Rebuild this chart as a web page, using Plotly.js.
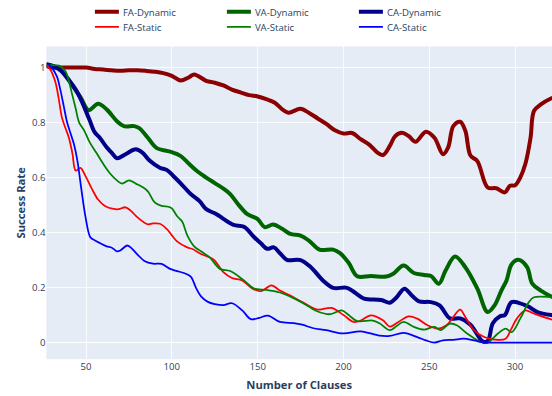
<!DOCTYPE html>
<html>
<head>
<meta charset="utf-8">
<script src="https://cdn.plot.ly/plotly-3.0.1.min.js"></script>
<style>
  html, body { margin: 0; padding: 0; background: #fff; overflow: hidden; }
  #frame { width: 552px; height: 396px; overflow: hidden; }
  #chart { width: 690px; height: 495px; transform: scale(0.8); transform-origin: 0 0; }
</style>
</head>
<body>
<div id="frame"><div id="chart"></div></div>
<script>
// Success rate versus number of clauses, dynamic vs static strategies.
const faDynX = [27,30,35,40,45,50,55,60,65,70,75,80,85,90,95,100,105,110,113,120,125,130,135,140,145,150,155,160,165,168,175,180,185,190,195,200,205,210,215,220,223,227,230,234,238,242,248,253,258,261,264,268,271,274,278,284,289,294,297,300,303,306,309,311,315,320,325];
const faDynY = [1.005,1.0,1.0,1.0,1.0,1.0,0.995,0.993,0.99,0.988,0.99,0.99,0.988,0.985,0.98,0.97,0.953,0.965,0.975,0.952,0.945,0.935,0.92,0.91,0.90,0.895,0.885,0.872,0.845,0.836,0.85,0.835,0.815,0.795,0.772,0.76,0.762,0.74,0.72,0.69,0.682,0.715,0.75,0.763,0.751,0.73,0.767,0.745,0.685,0.71,0.787,0.803,0.77,0.68,0.66,0.564,0.561,0.546,0.57,0.572,0.60,0.65,0.745,0.842,0.866,0.885,0.895];

const vaDynX = [27,31,35,39,43,47,51.5,57,62,68,72,78,81,86,91,99,105,110,115,120,125,130,134,139,144,150,154,159,164,169,175,180,186,194,198,203,208,216,225,229,235,241,247,251,255.6,259.5,265,271,278,284,288,292,295,298,302,307,310,315,322,325];
const vaDynY = [1.008,1.005,0.993,0.962,0.926,0.89,0.845,0.868,0.848,0.805,0.787,0.787,0.78,0.745,0.708,0.694,0.679,0.65,0.622,0.60,0.58,0.56,0.54,0.50,0.467,0.449,0.42,0.429,0.415,0.395,0.389,0.37,0.338,0.338,0.325,0.29,0.241,0.242,0.240,0.25,0.28,0.253,0.246,0.242,0.214,0.262,0.313,0.274,0.196,0.111,0.135,0.189,0.226,0.285,0.301,0.274,0.214,0.189,0.165,0.16];

const caDynX = [27,31,35,40,44,48,52,55,58,62,65,68,73,79,83,87,93,97,101,105,111,116,120,126,130,136,142,148,152,155.5,159.4,163,167,175,181,188,194,202,207,212,222,227,231,235.5,240,244,251,256,262,268,274,281,284,287,291,294,298,305,308,313,322,325];
const caDynY = [1.012,1.005,0.99,0.955,0.92,0.87,0.81,0.765,0.745,0.71,0.69,0.67,0.685,0.703,0.69,0.662,0.636,0.628,0.605,0.58,0.54,0.515,0.485,0.467,0.45,0.428,0.421,0.383,0.36,0.341,0.346,0.325,0.301,0.300,0.274,0.226,0.199,0.199,0.18,0.16,0.155,0.145,0.165,0.196,0.17,0.15,0.147,0.135,0.088,0.088,0.065,0.005,0.005,0.07,0.095,0.10,0.147,0.138,0.13,0.111,0.099,0.097];

const faStX = [27,29,32,34,36,38,40,42,44,46.7,49.6,53.5,57,61,66,69,73,76,80,86,89,93,97,100,103,109,112,117,122,125,130,135,141,147,152,158,163,169,176,185,193,200,206,210,216,223,227,232,238,243,249,255,260,264,268,271,276,282,288,294.5,297.4,301,306,311,322,325];
const faStY = [1.008,0.995,0.95,0.89,0.817,0.78,0.745,0.69,0.625,0.635,0.606,0.558,0.52,0.497,0.486,0.485,0.492,0.48,0.455,0.43,0.433,0.432,0.413,0.39,0.368,0.346,0.34,0.322,0.31,0.298,0.256,0.235,0.226,0.196,0.187,0.208,0.189,0.171,0.147,0.12,0.126,0.10,0.075,0.08,0.099,0.081,0.058,0.075,0.095,0.087,0.063,0.051,0.063,0.093,0.12,0.093,0.045,0.02,0.011,0.014,0.045,0.087,0.117,0.105,0.083,0.082];

const vaStX = [27,35,38,40,42,44,46,49,52,56,60,64,68,71,75,79,83,86,90,94,98,100,103,106,109,113,117,122,128,134,142,148,155,163,169,176,180,185,192,199,203,208,217,221,227,231,235,241,247,253,256.6,262,266,272,280,284,290,294.5,298,303,308,311,322,325];
const vaStY = [1.008,1.005,0.987,0.95,0.90,0.85,0.80,0.77,0.73,0.69,0.65,0.615,0.59,0.578,0.59,0.578,0.565,0.55,0.51,0.497,0.494,0.488,0.46,0.44,0.39,0.35,0.332,0.31,0.268,0.26,0.226,0.196,0.192,0.182,0.167,0.145,0.13,0.113,0.103,0.117,0.10,0.078,0.08,0.07,0.045,0.06,0.075,0.057,0.047,0.057,0.045,0.069,0.063,0.033,0.002,0.0,0.033,0.051,0.038,0.087,0.147,0.165,0.165,0.165];

const caStX = [27,30,33,35,37,39,41,43,45,47,49.6,52.5,55,58,62,65,68,70,74,77,80,84,89,94,99,103,107,111,114,117,121,125,130,135,141,146,151,156,163,171,176,182,190,200,210,221,227,235,243,248,253,258,264,270,276,282,290,300,310,325];
const caStY = [1.017,1.0,0.968,0.92,0.86,0.80,0.76,0.72,0.66,0.57,0.46,0.383,0.372,0.362,0.35,0.345,0.332,0.335,0.353,0.34,0.32,0.297,0.287,0.286,0.268,0.26,0.253,0.24,0.2,0.168,0.148,0.14,0.136,0.143,0.117,0.085,0.09,0.098,0.075,0.071,0.065,0.053,0.045,0.033,0.041,0.025,0.024,0.035,0.02,0.008,0.0,0.008,0.01,0.014,0.008,0.0,0.0,0.0,0.0,0.0];

function series(name, x, y, color, width) {
  return {
    type: 'scatter', mode: 'lines', name: name, x: x, y: y,
    line: { color: color, width: width, shape: 'spline', smoothing: 1 }
  };
}

const traces = [
  series('FA-Dynamic', faDynX, faDynY, '#8b0000', 5),
  series('VA-Dynamic', vaDynX, vaDynY, '#006400', 5),
  series('CA-Dynamic', caDynX, caDynY, '#00008b', 5),
  series('FA-Static', faStX, faStY, '#ff0000', 2.2),
  series('VA-Static', vaStX, vaStY, '#008000', 2.2),
  series('CA-Static', caStX, caStY, '#0000ff', 2.2)
];

const axisFont = { family: '"Open Sans", verdana, arial, sans-serif', size: 12, color: '#2a3f5f' };
const titleFont = { family: '"Open Sans", verdana, arial, sans-serif', size: 14, color: '#2a3f5f', weight: 'bold' };

const layout = {
  width: 690, height: 495,
  margin: { l: 58, r: 0, t: 56, b: 46, pad: 0 },
  paper_bgcolor: '#ffffff',
  plot_bgcolor: '#E5ECF6',
  font: axisFont,
  showlegend: true,
  legend: {
    orientation: 'h', x: 0.088, xanchor: 'left', y: 1.025, yanchor: 'bottom',
    entrywidth: 120, font: axisFont, bgcolor: 'rgba(0,0,0,0)'
  },
  xaxis: {
    title: { text: 'Number of Clauses', font: titleFont, standoff: 11 },
    range: [26.9, 321.5], tick0: 0, dtick: 50,
    showgrid: true, gridcolor: '#ffffff', gridwidth: 1,
    zeroline: false, showline: false, ticks: '', tickfont: axisFont
  },
  yaxis: {
    title: { text: 'Success Rate', font: titleFont, standoff: 5 },
    range: [-0.0605, 1.077], tick0: 0, dtick: 0.2,
    showgrid: true, gridcolor: '#ffffff', gridwidth: 1,
    zeroline: true, zerolinecolor: '#ffffff', zerolinewidth: 2,
    showline: false, ticks: '', tickfont: axisFont
  }
};

Plotly.newPlot('chart', traces, layout, { displayModeBar: false, staticPlot: true });
</script>
</body>
</html>
